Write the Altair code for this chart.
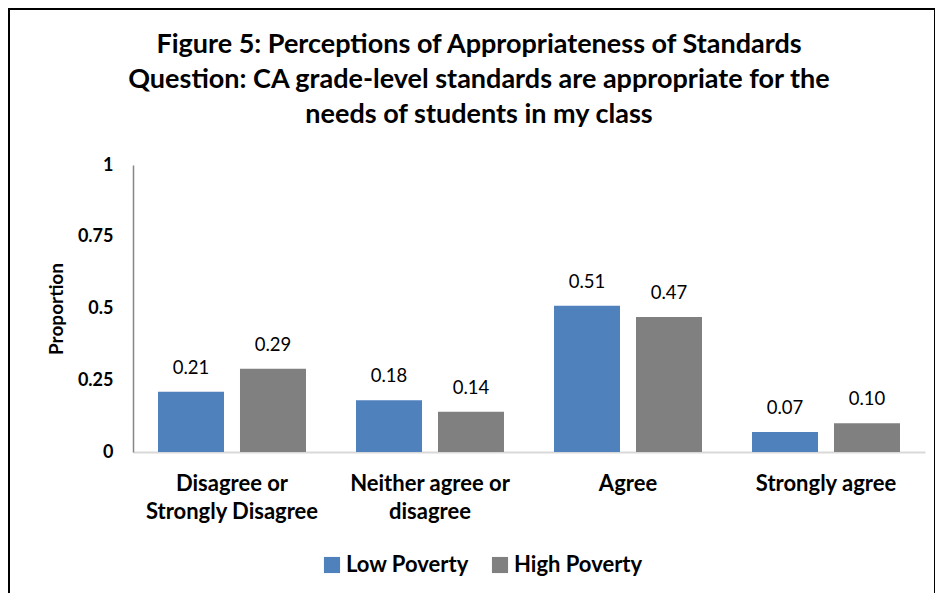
import altair as alt
import pandas as pd

categories = ["Disagree or|Strongly Disagree", "Neither agree or|disagree", "Agree", "Strongly agree"]
groups = ["Low Poverty", "High Poverty"]
low_poverty = [0.21, 0.18, 0.51, 0.07]
high_poverty = [0.29, 0.14, 0.47, 0.10]
colors = ["#4F81BD", "#808080"]
y_ticks = [0, 0.25, 0.5, 0.75, 1]
title_lines = [
    "Figure 5: Perceptions of Appropriateness of Standards",
    "Question: CA grade-level standards are appropriate for the",
    "needs of students in my class",
]

rows = []
for c, lo, hi in zip(categories, low_poverty, high_poverty):
    rows.append({"cat": c, "group": groups[0], "value": lo})
    rows.append({"cat": c, "group": groups[1], "value": hi})
df = pd.DataFrame(rows)

FONT = "Lato"

x_enc = alt.X(
    "cat:N", sort=categories, title=None,
    scale=alt.Scale(paddingInner=0, paddingOuter=0),
    axis=alt.Axis(
        labelExpr="split(datum.label, '|')", labelAngle=0, labelFont=FONT,
        labelFontSize=22, labelFontWeight="bold", labelColor="#000000",
        labelLineHeight=28, labelPadding=21, ticks=False, domainColor="#D9D9D9",
        domainWidth=2, labelBaseline="top",
    ),
)
xo_enc = alt.XOffset("group:N", sort=groups, scale=alt.Scale(paddingInner=0.195, paddingOuter=0.305))
y_enc = alt.Y(
    "value:Q", title="Proportion",
    scale=alt.Scale(domain=[0, 1], nice=False),
    axis=alt.Axis(
        values=y_ticks, format=".2~f", grid=False, ticks=False, labelPadding=20,
        labelFont=FONT, labelFontSize=18, labelFontWeight="bold", labelColor="#000000",
        domainColor="#868686", domainWidth=1.5, titleFont=FONT, titleFontSize=19,
        titleFontWeight="bold", titleColor="#000000", titlePadding=11,
    ),
)

bars = alt.Chart(df).mark_bar().encode(
    x=x_enc, xOffset=xo_enc, y=y_enc,
    color=alt.Color(
        "group:N", sort=groups, scale=alt.Scale(domain=groups, range=colors),
        legend=alt.Legend(
            title=None, orient="none", direction="horizontal", legendX=188, legendY=389,
            symbolType="square", symbolSize=260, symbolStrokeWidth=0, labelFont=FONT,
            labelFontSize=22, labelFontWeight="bold", labelColor="#000000",
            columnPadding=20, labelOffset=3,
        ),
    ),
)

labels = alt.Chart(df).mark_text(
    baseline="bottom", dy=-14, font=FONT, fontSize=18.5, color="#000000"
).encode(
    x=alt.X("cat:N", sort=categories), xOffset=alt.XOffset("group:N", sort=groups),
    y="value:Q", text=alt.Text("value:Q", format=".2f"),
)

border = alt.Chart(pd.DataFrame({"a": [0]})).mark_rect(
    fill=None, stroke="#000000", strokeWidth=2
).encode(
    x=alt.value(-124), x2=alt.value(802), y=alt.value(-156), y2=alt.value(460),
)

chart = alt.layer(bars, labels, border).properties(
    width=792, height=287,
    padding={"left": 125, "top": 157, "right": 10, "bottom": 141},
    autosize=alt.AutoSizeParams(type="none"),
    title=alt.TitleParams(
        text=title_lines, font=FONT, fontSize=27, fontWeight="bold", color="#000000",
        lineHeight=35, anchor="middle", dx=-50, offset=-121,
    ),
).configure_view(stroke=None)

chart.save("out.html", embed_options={"renderer": "svg", "actions": False})
